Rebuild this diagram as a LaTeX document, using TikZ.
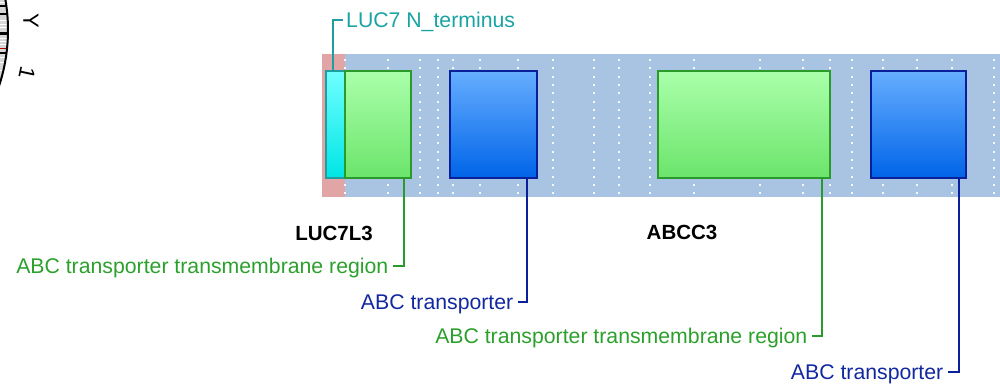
\documentclass[tikz,border=0pt]{standalone}
\usepackage{fontspec}
\setmainfont{Liberation Sans}
\definecolor{bandblue}{HTML}{A8C4E2}
\definecolor{nred}{HTML}{E2A5A5}
\definecolor{cyT}{HTML}{70FFFF}
\definecolor{cyB}{HTML}{00E5E5}
\definecolor{cyD}{HTML}{1E9E9E}
\definecolor{grT}{HTML}{AAFFAA}
\definecolor{grB}{HTML}{6BE46B}
\definecolor{grD}{HTML}{2A9A2A}
\definecolor{blT}{HTML}{66AEFF}
\definecolor{blB}{HTML}{0064E8}
\definecolor{blD}{HTML}{0A209A}
\definecolor{tealtxt}{HTML}{1AA3A3}
\definecolor{greentxt}{HTML}{2CA02C}
\definecolor{bluetxt}{HTML}{1228A0}
\definecolor{ringgray}{HTML}{D6D6D6}
\begin{document}
\begin{tikzpicture}[x=1pt,y=-1pt,
  lbl/.style={inner sep=0pt, font=\fontsize{21.25}{25}\selectfont},
  blbl/.style={inner sep=0pt, font=\fontsize{20.5}{24}\selectfont\bfseries},
  dombox/.style={inner sep=0pt, outer sep=0pt, line width=1.8pt, minimum height=107},
  cybox/.style={dombox, draw=cyD, top color=cyT, bottom color=cyB},
  grbox/.style={dombox, draw=grD, top color=grT, bottom color=grB},
  blbox/.style={dombox, draw=blD, top color=blT, bottom color=blB},
  conn/.style={line width=2pt},
  ringlbl/.style={inner sep=0pt, font=\fontsize{22}{22}\selectfont}
]
\useasboundingbox (0,0) rectangle (1000,388);

% partial circular ideogram in the corner
\begin{scope}
  \clip (0,0) rectangle (60,100);
  \begin{scope}
    \clip (-170,30) circle (178);
    \fill[ringgray] (-170,30) circle (178);
    \foreach \yy in {2,20,24,27,38,41,44,57,62,70} {\draw[white, line width=0.8pt] (0,\yy) -- (12,\yy);}
    \draw[black, line width=1.2pt] (0,6) -- (12,6);
    \draw[black, line width=2pt] (0,14) -- (12,14);
    \draw[black, line width=3pt] (0,33.5) -- (12,33.5);
    \draw[red!70!black, line width=0.8pt] (0,48) -- (12,48);
    \draw[black, line width=1.2pt] (0,53) -- (12,53);
  \end{scope}
  \draw[black, line width=2pt] (-170,30) circle (178);
\end{scope}
\node[ringlbl, rotate=-90] (ly) at (31,21) {Y};
\node[ringlbl, rotate=-102] (l1) at (27,73) {1};

% protein band
\fill[bandblue] (322,54) rectangle (1000,197);
\fill[nred] (322,54) rectangle (345,197);
\foreach \x in {344.6,388.4,419.6,438.4,452.7,479.9,517.9,553.1,593.75,618.75,649.6,693.75,759.8,802.7,829.9,851.8,882.6,917,952.2,994.2} {
  \foreach \k in {0,...,16} {
    \fill[white, opacity=0.9] ({\x-1},{59+8.333*\k}) rectangle ++(2,2);
  }
}

% domains
\node[cybox, minimum width=19.3] (nt) at (335.35,124.5) {};
\node[grbox, minimum width=66.3] (g1) at (378.15,124.5) {};
\node[blbox, minimum width=87] (b1) at (493.5,124.5) {};
\node[grbox, minimum width=171.4] (g2) at (744,124.5) {};
\node[blbox, minimum width=95.3] (b2) at (918.65,124.5) {};

% gene labels
\node[blbl] (gene1) at (334,233.5) {LUC7L3};
\node[blbl] (gene2) at (682,232.5) {ABCC3};

% callouts
\coordinate (tnt) at (343,20);
\draw[conn, draw=cyD] ([xshift=-2.3pt]nt.north) |- (tnt);
\node[lbl, text=tealtxt, anchor=base west] (lnt) at (346,27.5) {LUC7 N\_terminus};

\coordinate (tg1) at (393,266);
\draw[conn, draw=grD] ([xshift=-7.5pt]g1.south east) |- (tg1);
\node[lbl, text=greentxt, anchor=base east] (lg1) at (388.5,273.5) {ABC transporter transmembrane region};

\coordinate (tb1) at (518,302);
\draw[conn, draw=blD] ([xshift=-10pt]b1.south east) |- (tb1);
\node[lbl, text=bluetxt, anchor=base east] (lb1) at (513.5,309.5) {ABC transporter};

\coordinate (tg2) at (812,336);
\draw[conn, draw=grD] ([xshift=-7.7pt]g2.south east) |- (tg2);
\node[lbl, text=greentxt, anchor=base east] (lg2) at (807.5,343.5) {ABC transporter transmembrane region};

\coordinate (tb2) at (948,372);
\draw[conn, draw=blD] ([xshift=-7.6pt]b2.south east) |- (tb2);
\node[lbl, text=bluetxt, anchor=base east] (lb2) at (943.5,379.5) {ABC transporter};
\end{tikzpicture}
\end{document}
